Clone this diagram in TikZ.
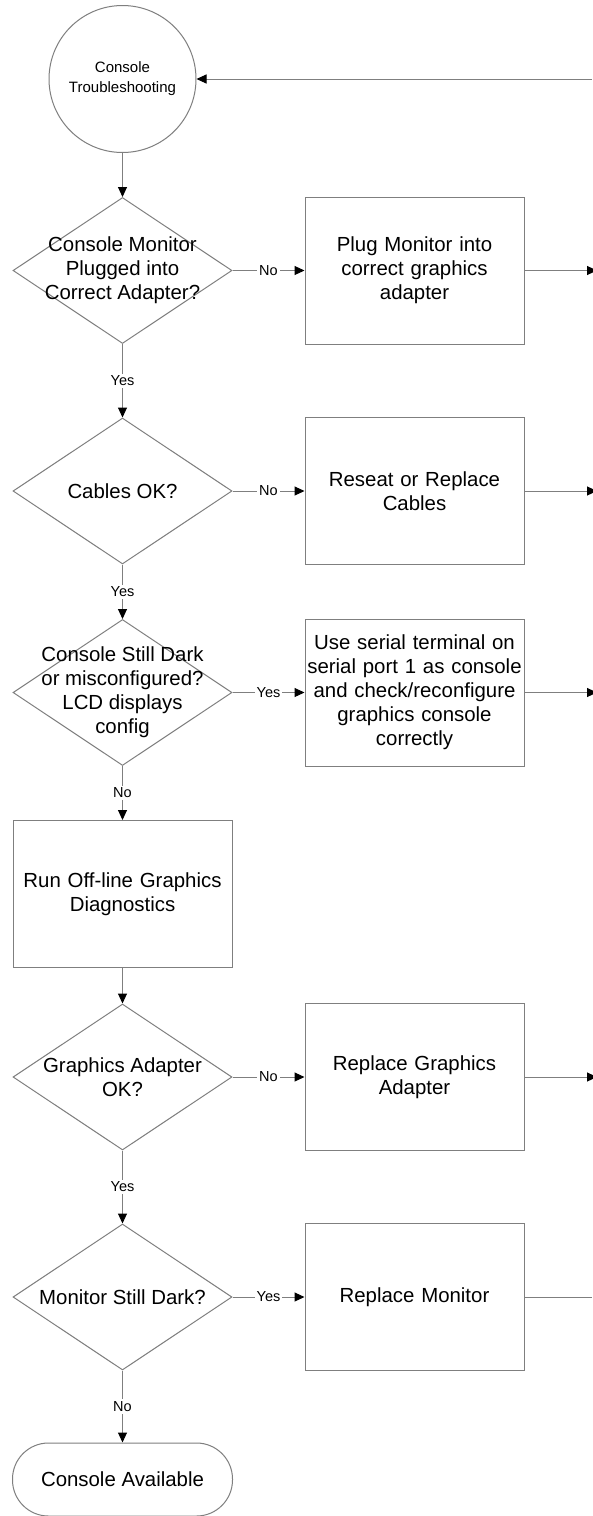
\documentclass[tikz,border=0pt]{standalone}
\usepackage{fontspec}
\setmainfont{Liberation Sans}
\usetikzlibrary{arrows.meta,shapes.geometric}
\definecolor{linegray}{HTML}{7F7F7F}
\begin{document}
\begin{tikzpicture}[x=1pt,y=-1pt,
  outline/.style={draw=linegray, line width=1pt},
  bigtext/.style={font=\fontsize{20.4}{24}\selectfont, align=center},
  box/.style={outline, rectangle, bigtext, text width=219pt, minimum height=147pt, inner sep=0pt},
  decision/.style={outline, diamond, minimum width=219pt, minimum height=146pt, inner sep=0pt},
  dtext/.style={bigtext, inner sep=0pt},
  startnode/.style={outline, circle, minimum size=147pt, inner sep=0pt, align=center, font=\fontsize{15}{20}\selectfont},
  terminal/.style={outline, rectangle, rounded corners=36pt, minimum width=220pt, minimum height=73pt, inner sep=0pt, bigtext},
  conn/.style={draw=linegray, line width=1pt, -{Triangle[length=10pt,width=9pt,color=black,fill=black]}},
  plain/.style={draw=linegray, line width=1pt},
  lbl/.style={fill=white, inner sep=2pt, font=\fontsize{14.5}{17}\selectfont}
]
\useasboundingbox (0,0) rectangle (592,1516);
\fill[white] (0,0) rectangle (592,1516);

% nodes
\node[startnode] (start) at (122.5,79) {Console\\Troubleshooting};

\node[decision] (d1) at (122.5,270.5) {};
\node[dtext] (d1t) at (d1) {Console Monitor\\Plugged into\\Correct Adapter?};
\node[box] (b1) at (414.5,270.5) {Plug Monitor into\\correct graphics\\adapter};

\node[decision] (d2) at (122.5,491) {};
\node[dtext] (d2t) at (d2) {Cables OK?};
\node[box] (b2) at (414.5,491) {Reseat or Replace\\Cables};

\node[decision] (d3) at (122.5,692.5) {};
\node[dtext] (d3t) at (d3) {Console Still Dark\\or misconfigured?\\LCD displays\\config};
\node[box] (b3) at (414.5,692.5) {Use serial terminal on\\serial port 1 as console\\and check/reconfigure\\graphics console\\correctly};

\node[box] (b4) at (122.5,894) {Run Off-line Graphics\\Diagnostics};

\node[decision] (d5) at (122.5,1077) {};
\node[dtext] (d5t) at (d5) {Graphics Adapter\\OK?};
\node[box] (b5) at (414.5,1077) {Replace Graphics\\Adapter};

\node[decision] (d6) at (122.5,1297) {};
\node[dtext] (d6t) at (d6) {Monitor Still Dark?};
\node[box] (b6) at (414.5,1297) {Replace Monitor};

\node[terminal] (end) at (122.5,1479.5) {Console Available};

% free ends at the right edge
\coordinate (r0) at (592,79);
\coordinate (r1) at (597,270.5);
\coordinate (r2) at (597,491);
\coordinate (r3) at (597,692.5);
\coordinate (r5) at (597,1077);
\coordinate (r6) at (592,1297);

% main flow
\draw[conn] (start) -- (d1.north);
\draw[conn] (d1.south) -- node[lbl] {Yes} (d2.north);
\draw[conn] (d2.south) -- node[lbl] {Yes} (d3.north);
\draw[conn] (d3.south) -- node[lbl] {No} (b4.north);
\draw[conn] (b4.south) -- (d5.north);
\draw[conn] (d5.south) -- node[lbl] {Yes} (d6.north);
\draw[conn] (d6.south) -- node[lbl] {No} (end.north);

% branches
\draw[conn] (d1.east) -- node[lbl] {No} (b1.west);
\draw[conn] (d2.east) -- node[lbl] {No} (b2.west);
\draw[conn] (d3.east) -- node[lbl] {Yes} (b3.west);
\draw[conn] (d5.east) -- node[lbl] {No} (b5.west);
\draw[conn] (d6.east) -- node[lbl] {Yes} (b6.west);

% to the right edge
\draw[conn] (b1.east) -- (r1);
\draw[conn] (b2.east) -- (r2);
\draw[conn] (b3.east) -- (r3);
\draw[conn] (b5.east) -- (r5);
\draw[plain] (b6.east) -- (r6);
\draw[conn] (r0) -- (start.east);
\end{tikzpicture}
\end{document}
